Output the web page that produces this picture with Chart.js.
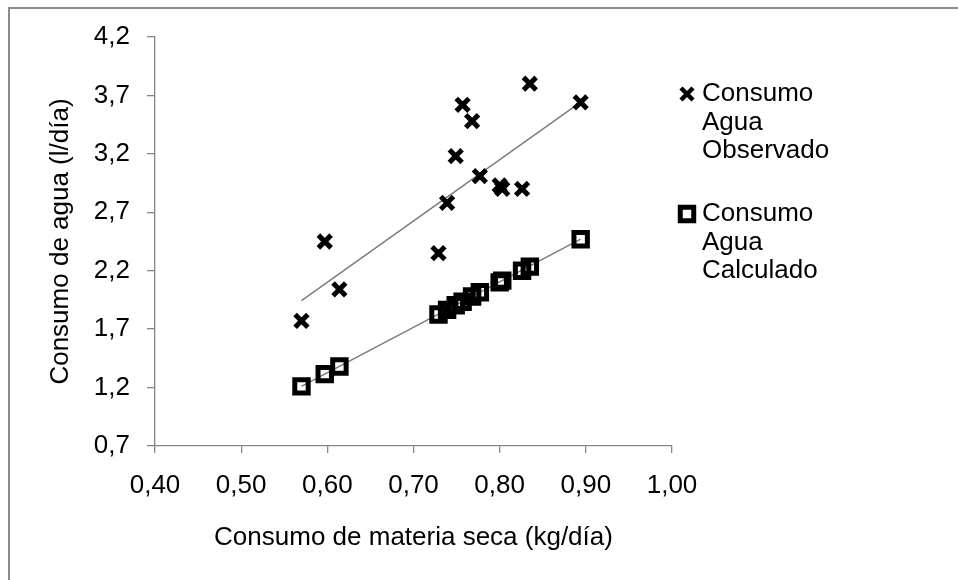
<!DOCTYPE html>
<html>
<head>
<meta charset="utf-8">
<script src="https://cdn.jsdelivr.net/npm/chart.js@4.4.0/dist/chart.umd.min.js"></script>
<style>
  html, body { margin: 0; padding: 0; background: #fff; }
  #wrap { width: 958px; height: 580px; }
</style>
</head>
<body>
<div id="wrap"><canvas id="chart" width="958" height="580"></canvas></div>
<script>
// consumo de materia seca (kg/día)
const consumoMS = [0.570, 0.597, 0.614, 0.729, 0.739, 0.749, 0.757, 0.768, 0.777, 0.800, 0.803, 0.826, 0.835, 0.894];
// consumo de agua (l/día)
const aguaObservado = [1.77, 2.45, 2.04, 2.35, 2.78, 3.18, 3.62, 3.48, 3.01, 2.93, 2.90, 2.90, 3.80, 3.64];
const aguaCalculado = [1.21, 1.315, 1.38, 1.825, 1.865, 1.905, 1.935, 1.98, 2.015, 2.10, 2.115, 2.20, 2.235, 2.47];
// trend lines (ends)
const trendX = [0.570, 0.894];
const trendObservado = [1.944, 3.643];
const trendCalculado = [1.21, 2.47];

const xTicks = [0.40, 0.50, 0.60, 0.70, 0.80, 0.90, 1.00];
const yTicks = [0.7, 1.2, 1.7, 2.2, 2.7, 3.2, 3.7, 4.2];
const seriesNames = ['Consumo Agua Observado', 'Consumo Agua Calculado'];
const legendLines = [['Consumo', 'Agua', 'Observado'], ['Consumo', 'Agua', 'Calculado']];

const FONT = 'Arial, "Liberation Sans", sans-serif';
const AXIS_GREY = '#868686';
Chart.defaults.font.family = FONT;
Chart.defaults.color = '#000';

const pts = (xs, ys) => xs.map((x, i) => ({ x: x, y: ys[i] }));
const comma = (v, d) => Number(v).toFixed(d).replace('.', ',');

// grey frame round the chart (only top/left are inside the picture)
const framePlugin = {
  id: 'frame',
  beforeDraw(chart) {
    const ctx = chart.ctx;
    ctx.save();
    ctx.fillStyle = '#fff';
    ctx.fillRect(0, 0, chart.width, chart.height);
    ctx.strokeStyle = '#8c8c8c';
    ctx.lineWidth = 2;
    ctx.beginPath();
    ctx.moveTo(9, chart.height);
    ctx.lineTo(9, 8);
    ctx.lineTo(chart.width, 8);
    ctx.stroke();
    ctx.restore();
  }
};

// legend with wrapped labels, like the original
const legendPlugin = {
  id: 'wrapLegend',
  afterDraw(chart) {
    const ctx = chart.ctx;
    const groups = [{ y: 94, ds: 0, r: 8.5, w: 4.5 }, { y: 214, ds: 1, r: 9.5, w: 5 }];
    ctx.save();
    groups.forEach((g, i) => {
      const ds = chart.data.datasets[g.ds];
      ctx.strokeStyle = ds.borderColor;
      ctx.fillStyle = ds.backgroundColor;
      ctx.lineWidth = g.w;
      Chart.helpers.drawPoint(ctx, { pointStyle: ds.pointStyle, radius: g.r, borderWidth: g.w, rotation: 0 }, 687, g.y);
      ctx.fillStyle = '#000';
      ctx.font = '26px ' + FONT;
      ctx.textBaseline = 'middle';
      ctx.textAlign = 'left';
      legendLines[i].forEach((t, j) => ctx.fillText(t, 702, g.y + j * 28.5));
    });
    ctx.restore();
  }
};

new Chart(document.getElementById('chart'), {
  type: 'scatter',
  data: {
    datasets: [
      {
        label: seriesNames[0],
        data: pts(consumoMS, aguaObservado),
        pointStyle: 'crossRot',
        pointRadius: 9,
        borderWidth: 5,
        borderColor: '#000',
        backgroundColor: '#000',
        order: 0
      },
      {
        label: seriesNames[1],
        data: pts(consumoMS, aguaCalculado),
        pointStyle: 'rect',
        pointRadius: 9.5,
        borderWidth: 5,
        borderColor: '#000',
        backgroundColor: 'rgba(255,255,255,0)',
        order: 0
      },
      {
        label: 'trend obs',
        data: pts(trendX, trendObservado),
        showLine: true,
        pointRadius: 0,
        borderColor: '#7a7a7a',
        borderWidth: 1.4,
        order: 1
      },
      {
        label: 'trend calc',
        data: pts(trendX, trendCalculado),
        showLine: true,
        pointRadius: 0,
        borderColor: '#7a7a7a',
        borderWidth: 1.4,
        order: 1
      }
    ]
  },
  options: {
    responsive: false,
    animation: false,
    layout: { padding: { top: 37, right: 286, left: 0, bottom: 0 } },
    plugins: {
      legend: { display: false },
      tooltip: { enabled: false }
    },
    scales: {
      x: {
        type: 'linear',
        min: 0.4,
        max: 1.0,
        afterBuildTicks: s => { s.ticks = xTicks.map(v => ({ value: v })); },
        afterFit: s => { s.height = 134; },
        grid: { drawOnChartArea: false, tickLength: 7, color: AXIS_GREY, lineWidth: 1.3 },
        border: { color: AXIS_GREY, width: 1.3 },
        ticks: { padding: 17, font: { size: 26 }, color: '#000', callback: v => comma(v, 2) },
        title: {
          display: true,
          text: 'Consumo de materia seca (kg/día)',
          font: { size: 26 },
          color: '#000',
          padding: { top: 0, bottom: 27 }
        }
      },
      y: {
        type: 'linear',
        min: 0.7,
        max: 4.2,
        afterBuildTicks: s => { s.ticks = yTicks.map(v => ({ value: v })); },
        afterFit: s => { s.width = 155; },
        grid: { drawOnChartArea: false, tickLength: 8, color: AXIS_GREY, lineWidth: 1.3 },
        border: { color: AXIS_GREY, width: 1.3 },
        ticks: { padding: 17, font: { size: 26 }, color: '#000', callback: v => comma(v, 1) },
        title: {
          display: true,
          text: 'Consumo de agua (l/día)',
          font: { size: 26 },
          color: '#000',
          padding: { top: 45, bottom: 0 }
        }
      }
    }
  },
  plugins: [framePlugin, legendPlugin]
});
</script>
</body>
</html>
